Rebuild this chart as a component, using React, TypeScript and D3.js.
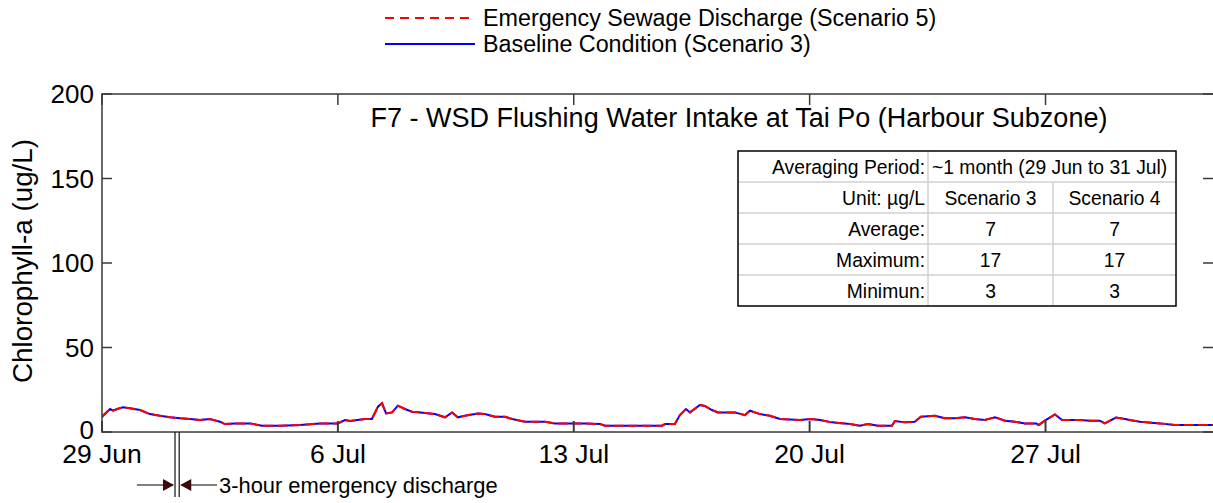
import React from "react";
import * as d3 from "d3";

// days since 29 Jun 00:00
const days = [0.0,0.03,0.24,0.33,0.45,0.62,0.83,1.13,1.42,1.72,2.02,2.31,2.61,2.91,3.2,3.5,3.65,3.95,4.39,4.75,5.28,5.88,6.47,7.0,7.21,7.36,7.8,8.01,8.19,8.31,8.43,8.61,8.78,8.99,9.2,9.44,9.88,10.18,10.39,10.56,10.77,11.16,11.36,11.66,11.96,12.17,12.55,13.15,13.44,14.33,14.78,14.93,16.62,16.71,17.0,17.15,17.33,17.45,17.74,17.89,18.1,18.28,18.78,19.08,19.23,19.53,19.82,20.12,20.71,21.04,21.31,21.66,22.2,22.49,22.73,23.03,23.44,23.53,23.83,24.12,24.3,24.72,25.01,25.31,25.61,25.9,26.2,26.5,26.8,27.09,27.39,27.72,27.8,27.98,28.28,28.49,29.02,29.32,29.61,29.76,30.09,30.36,30.5,30.8,31.39,31.84,33.0];
const scenario3 = [8.8,9.6,13.6,12.6,13.6,14.6,14.0,13.0,10.6,9.6,8.7,8.1,7.7,7.1,7.7,6.1,4.7,5.1,5.1,3.7,3.7,4.1,5.1,5.1,7.1,6.5,7.7,7.7,15.0,17.0,11.0,11.6,15.6,13.6,12.0,11.6,10.6,8.7,11.6,8.7,9.6,11.0,10.6,9.0,9.0,7.7,6.1,6.1,5.1,5.1,4.7,3.7,3.7,4.7,4.7,10.0,13.6,11.6,16.0,15.4,13.0,11.6,11.6,10.0,12.6,10.6,9.6,7.7,7.1,7.7,7.1,5.7,4.7,3.7,4.7,3.7,3.7,6.5,5.7,6.1,9.0,9.6,8.1,8.1,8.7,7.7,7.1,8.7,6.7,6.1,5.1,5.1,4.1,6.7,10.4,7.1,7.1,6.7,6.7,5.1,8.5,7.7,7.1,6.1,5.1,4.1,4.1];
const scenario5 = scenario3.slice();

const yTicks = [0, 50, 100, 150, 200];
const xTickDays = [0, 7, 14, 21, 28];
const xTickLabels = ["29 Jun", "6 Jul", "13 Jul", "20 Jul", "27 Jul"];
const dischargeHours = [52, 55];

const tableRows = [
  ["Averaging Period:", "~1 month (29 Jun to 31 Jul)"],
  ["Unit: µg/L", "Scenario 3", "Scenario 4"],
  ["Average:", "7", "7"],
  ["Maximum:", "17", "17"],
  ["Minimun:", "3", "3"],
];

const FONT = "'Liberation Sans', Arial, sans-serif";

export default function App() {
  const W = 1213, H = 503;
  const L = 102, R = 1214, T = 94, B = 432;
  const x = d3.scaleLinear().domain([0, 33]).range([L, R]);
  const y = d3.scaleLinear().domain([0, 200]).range([B, T]);
  const line = d3
    .line<number>()
    .x((_, i) => x(days[i]))
    .y((d) => y(d));
  const axisColor = "#3a3a3a";

  // table geometry
  const tL = 738, tR = 1176, tT = 151, rowH = 31;
  const c1 = 928, c2 = 1053;
  const tB = tT + rowH * tableRows.length;
  const tFont = 19.3;

  const dx0 = x(dischargeHours[0] / 24);
  const dx1 = x(dischargeHours[1] / 24);
  const ay = 485;

  return (
    <svg
      width={W}
      height={H}
      style={{ position: "absolute", left: 0, top: 0, background: "#fff" }}
      fontFamily={FONT}
    >
      <rect x={0} y={0} width={W} height={H} fill="#fff" />
      {/* legend */}
      <line x1={385} x2={475} y1={18} y2={18} stroke="#ff0000" strokeWidth={2} strokeDasharray="9,6" />
      <text x={483} y={26} fontSize={23.3} fill="#000">Emergency Sewage Discharge (Scenario 5)</text>
      <line x1={385} x2={475} y1={44} y2={44} stroke="#0000ff" strokeWidth={2} />
      <text x={483} y={52} fontSize={23.3} fill="#000">Baseline Condition (Scenario 3)</text>

      {/* plot box */}
      <clipPath id="clip">
        <rect x={L} y={T} width={R - L} height={B - T} />
      </clipPath>
      <g clipPath="url(#clip)">
        <path d={line(scenario3) || ""} fill="none" stroke="#0000ff" strokeWidth={2} />
        <path d={line(scenario5) || ""} fill="none" stroke="#ff0000" strokeWidth={2} strokeDasharray="10,4" />
      </g>
      <rect x={L} y={T} width={R - L} height={B - T} fill="none" stroke={axisColor} strokeWidth={1.5} />

      {/* y ticks */}
      {yTicks.map((v) => (
        <g key={"y" + v}>
          <line x1={L} x2={L + 10} y1={y(v)} y2={y(v)} stroke={axisColor} strokeWidth={1.5} />
          <line x1={R - 11} x2={R} y1={y(v)} y2={y(v)} stroke={axisColor} strokeWidth={1.5} />
          <text x={94} y={y(v) + (v === 0 ? 7 : 9)} fontSize={26} textAnchor="end" fill="#000">{v}</text>
        </g>
      ))}
      {/* x ticks */}
      {xTickDays.map((d, i) => (
        <g key={"x" + d}>
          <line x1={x(d)} x2={x(d)} y1={B} y2={B - 11} stroke={axisColor} strokeWidth={2} />
          <line x1={x(d)} x2={x(d)} y1={T} y2={T + 11} stroke={axisColor} strokeWidth={1.5} />
          <text x={x(d)} y={463} fontSize={26.5} textAnchor="middle" fill="#000">{xTickLabels[i]}</text>
        </g>
      ))}
      {/* y label */}
      <text
        transform={`translate(32,261) rotate(-90)`}
        fontSize={27.8}
        textAnchor="middle"
        fill="#000"
      >
        Chlorophyll-a (ug/L)
      </text>

      {/* title */}
      <text x={739} y={127} fontSize={27} textAnchor="middle" fill="#000">
        F7 - WSD Flushing Water Intake at Tai Po (Harbour Subzone)
      </text>

      {/* table */}
      <rect x={tL} y={tT} width={tR - tL} height={tB - tT} fill="#fff" />
      {tableRows.map((row, i) => {
        const ry = tT + rowH * i;
        return (
          <g key={"r" + i}>
            {i > 0 && <line x1={tL} x2={tR} y1={ry} y2={ry} stroke="#d0d0d0" strokeWidth={1.5} />}
            <text x={c1 - 3} y={ry + 23} fontSize={tFont} textAnchor="end" fill="#000">{row[0]}</text>
            {row.length === 2 ? (
              <text x={c1 + 4} y={ry + 23} fontSize={tFont} fill="#000">{row[1]}</text>
            ) : (
              <>
                <text x={(c1 + c2) / 2} y={ry + 23} fontSize={tFont} textAnchor="middle" fill="#000">{row[1]}</text>
                <text x={(c2 + tR) / 2} y={ry + 23} fontSize={tFont} textAnchor="middle" fill="#000">{row[2]}</text>
              </>
            )}
          </g>
        );
      })}
      <line x1={c1} x2={c1} y1={tT} y2={tB} stroke="#d0d0d0" strokeWidth={1.5} />
      <line x1={c2} x2={c2} y1={tT + rowH} y2={tB} stroke="#d0d0d0" strokeWidth={1.5} />
      <rect x={tL} y={tT} width={tR - tL} height={tB - tT} fill="none" stroke="#000" strokeWidth={1.5} />

      {/* emergency discharge annotation */}
      <line x1={dx0} x2={dx0} y1={B} y2={497} stroke="#222" strokeWidth={1.3} />
      <line x1={dx1} x2={dx1} y1={B} y2={497} stroke="#222" strokeWidth={1.3} />
      <line x1={137} x2={dx0 - 2} y1={ay} y2={ay} stroke="#000" strokeWidth={1.2} />
      <path d={`M${dx0 - 1},${ay} L${dx0 - 12},${ay - 6} L${dx0 - 12},${ay + 6} Z`} fill="#3b0a0a" />
      <line x1={dx1 + 2} x2={217} y1={ay} y2={ay} stroke="#000" strokeWidth={1.2} />
      <path d={`M${dx1 + 1},${ay} L${dx1 + 12},${ay - 6} L${dx1 + 12},${ay + 6} Z`} fill="#3b0a0a" />
      <text x={219} y={493} fontSize={21.9} fill="#000">3-hour emergency discharge</text>
    </svg>
  );
}
